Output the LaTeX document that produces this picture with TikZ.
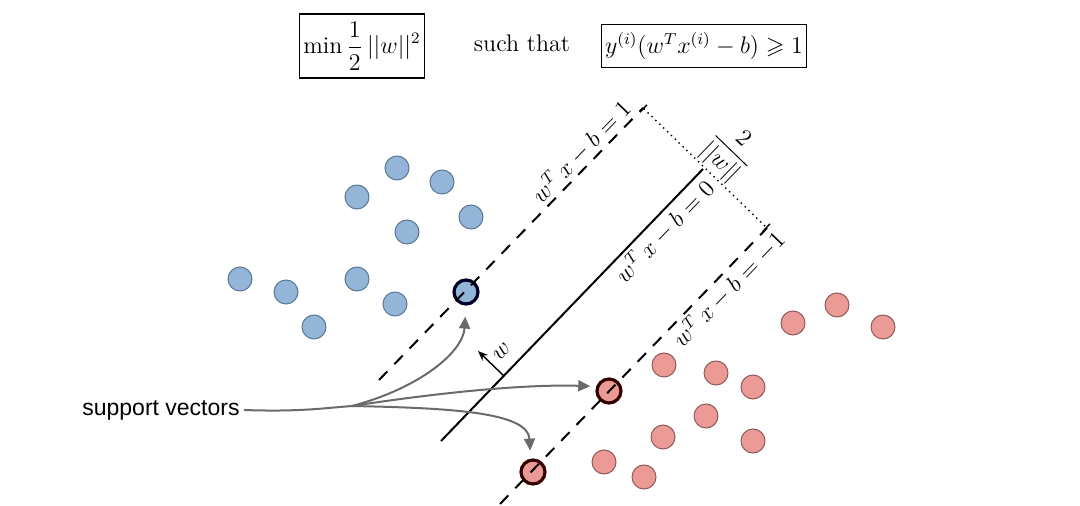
\documentclass[tikz,border=0pt]{standalone}
\usepackage{amsmath,amssymb}
\usepackage{fontspec}
\newfontfamily\svfont{Liberation Sans}
\usetikzlibrary{arrows.meta}
\definecolor{bluefill}{HTML}{93B5D8}
\definecolor{bluedge}{HTML}{5A7894}
\definecolor{redfill}{HTML}{EC9A96}
\definecolor{rededge}{HTML}{8E5A58}
\definecolor{svgray}{HTML}{6A6A6A}

\begin{document}
\begin{tikzpicture}[x=0.5pt,y=-0.5pt,
    bluept/.style={circle,draw=bluedge,fill=bluefill,line width=0.5pt,minimum size=12pt,inner sep=0pt},
    redpt/.style={circle,draw=rededge,fill=redfill,line width=0.5pt,minimum size=12pt,inner sep=0pt},
    bluesv/.style={bluept,draw=black!85!blue,line width=1.6pt,minimum size=12pt},
    redsv/.style={redpt,draw=black!80!red,line width=1.6pt,minimum size=12pt},
    margin/.style={line width=1pt,dash pattern=on 6pt off 5pt},
    linelab/.style={rotate=46,font=\large,inner sep=1.5pt},
    formbox/.style={draw,line width=0.6pt,inner xsep=2pt,inner ysep=4pt,font=\large},
    svarrow/.style={draw=svgray,line width=1pt,-{Triangle[length=6pt,width=5.5pt]}}]
    \useasboundingbox (0,0) rectangle (1080,506);

    % objective and constraint
    \node [formbox] (obj) at (362,46) {$\displaystyle\min\frac{1}{2}\,||w||^2$};
    \node [font=\large] (st) at (522,43) {such that};
    \node [formbox] (cons) at (704,46) {$y^{(i)}(w^Tx^{(i)}-b)\geqslant 1$};

    % class -1
    \node [bluept] (b1) at (397,168) {};
    \node [bluept] (b2) at (442,182) {};
    \node [bluept] (b3) at (357,197) {};
    \node [bluept] (b4) at (471,217) {};
    \node [bluept] (b5) at (407,232) {};
    \node [bluept] (b6) at (240,279) {};
    \node [bluept] (b7) at (286,292) {};
    \node [bluept] (b8) at (357,279) {};
    \node [bluept] (b9) at (395,304) {};
    \node [bluept] (b10) at (314,327) {};
    \node [bluesv] (bsv) at (466,292) {};

    % class +1
    \node [redpt] (r1) at (793,323) {};
    \node [redpt] (r2) at (837,305) {};
    \node [redpt] (r3) at (883,327) {};
    \node [redpt] (r4) at (664,365) {};
    \node [redpt] (r5) at (716,373) {};
    \node [redpt] (r6) at (753,387) {};
    \node [redpt] (r7) at (706,416) {};
    \node [redpt] (r8) at (663,437) {};
    \node [redpt] (r9) at (753,441) {};
    \node [redpt] (r10) at (604,462) {};
    \node [redpt] (r11) at (644,477) {};
    \node [redsv] (rsv1) at (609,391) {};
    \node [redsv] (rsv2) at (533,472) {};

    % hyperplanes
    \coordinate (up1) at (379,380);
    \coordinate (up2) at (643,108);
    \coordinate (mid1) at (441,441);
    \coordinate (mid2) at (703,169);
    \coordinate (lo1) at (500,504);
    \coordinate (lo2) at (767,228);
    \draw [margin] (up1) -- (up2);
    \draw [line width=1pt] (mid1) -- (mid2);
    \draw [margin] (lo1) -- (lo2);
    \draw [dotted,line width=0.7pt,{Bar[width=5pt]}-{Bar[width=5pt]}] (up2) -- (lo2);

    \node [linelab,anchor=south] (lab1) at (591,161) {$w^T\,x - b = 1$};
    \node [linelab,anchor=north] (lab0) at (654,221) {$w^T\,x - b = 0$};
    \node [linelab,anchor=north] (labm) at (718,279) {$w^T\,x - b = -1$};
    \node [rotate=-44,anchor=south,inner sep=1pt,font=\large] (gap) at (710,173) {$\dfrac{2}{||w||}$};

    % normal vector
    \coordinate (wfoot) at (504,376);
    \coordinate (wtip) at (478,351);
    \draw [line width=0.7pt,-{Stealth[length=5pt,width=4pt]}] (wfoot) -- (wtip);
    \node [rotate=46,font=\large] (wlab) at (502,352) {$w$};

    % support vectors
    \node [font=\svfont\fontsize{11.5}{14}\selectfont,anchor=east,inner sep=2pt] (sv) at (244,410) {support vectors};
    \coordinate (jn) at (352,406);
    \draw [svgray,line width=1pt] (sv.east) .. controls (300,412) and (325,408) .. (jn);
    \draw [svarrow,shorten >=5.5pt] (jn) .. controls (420,388) and (463,352) .. (bsv.south);
    \draw [svarrow,shorten >=3pt] (jn) .. controls (430,394) and (520,384) .. (rsv1.160);
    \draw [svarrow,shorten >=4pt] (jn) .. controls (450,408) and (528,412) .. (rsv2.100);
\end{tikzpicture}
\end{document}
